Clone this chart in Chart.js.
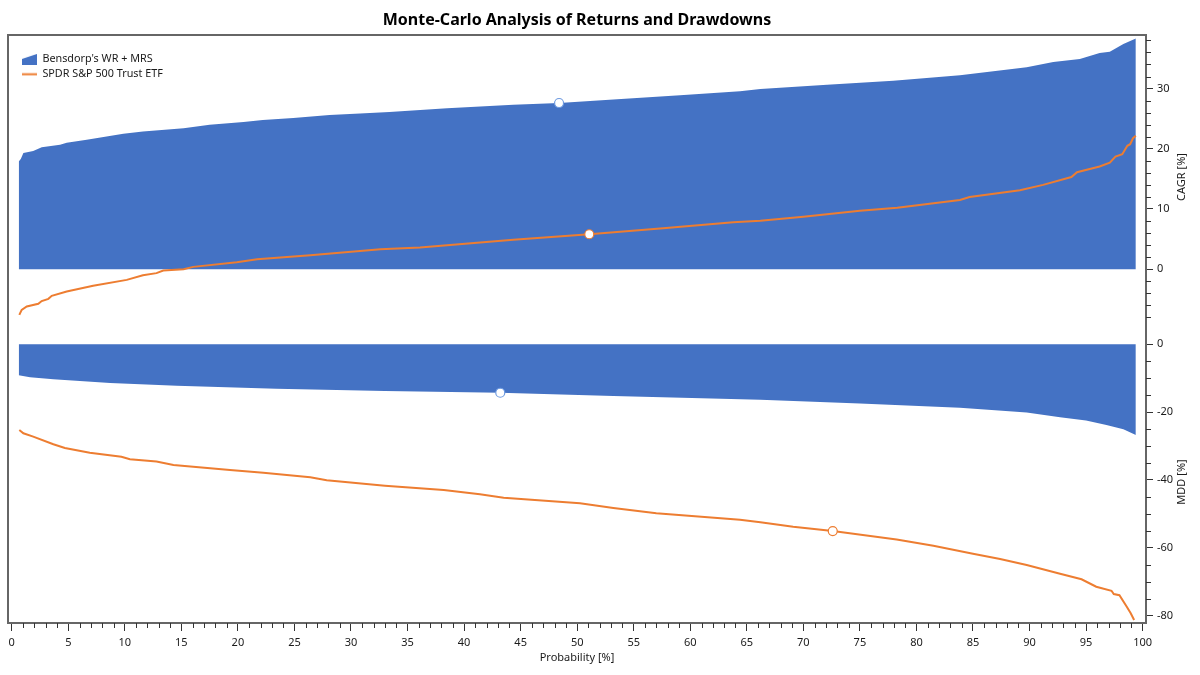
<!DOCTYPE html>
<html>
<head>
<meta charset="utf-8">
<title>Monte-Carlo Analysis of Returns and Drawdowns</title>
<script src="https://cdn.jsdelivr.net/npm/chart.js@4/dist/chart.umd.min.js"></script>
<style>
    body { margin: 0; background: #fff; }
    canvas { display: block; }
</style>
</head>
<body>
<canvas id="chart" width="1200" height="675"></canvas>
<script>
// values
const wrCagrX = [0.62, 0.8, 1.03, 1.9, 2.65, 4.27, 4.86, 6.63, 9.87, 11.6, 15.2, 17.5, 20.5, 22.2, 24.9, 28.1, 30.8, 33.4, 38.5, 44.35, 48.4, 53.2, 59.1, 64.4, 66.2, 72.1, 77.95, 83.85, 89.75, 92.1, 94.45, 96.2, 97.1, 98.3, 99.4];
const wrCagrY = [17.9, 18.3, 19.3, 19.65, 20.25, 20.65, 21.0, 21.5, 22.5, 22.85, 23.4, 24.0, 24.45, 24.8, 25.1, 25.6, 25.85, 26.1, 26.75, 27.3, 27.6, 28.2, 28.9, 29.55, 29.95, 30.65, 31.3, 32.2, 33.55, 34.4, 34.9, 35.9, 36.1, 37.4, 38.3];

const spyCagrX = [0.67, 0.88, 1.33, 2.35, 2.65, 3.24, 3.54, 4.86, 7.2, 10.17, 11.6, 12.8, 13.4, 15.2, 16.05, 19.9, 21.7, 26.4, 32.6, 36.1, 44.35, 51.07, 57.6, 63.8, 66.2, 70, 75, 78.3, 83.85, 84.7, 89.15, 91.2, 93.7, 94.2, 96.2, 97.1, 97.6, 98.2, 98.65, 98.9, 99.15, 99.4];
const spyCagrY = [-7.6, -6.76, -6.2, -5.76, -5.3, -4.93, -4.43, -3.7, -2.77, -1.78, -1.0, -0.66, -0.23, 0, 0.38, 1.16, 1.66, 2.33, 3.3, 3.6, 4.87, 5.8, 6.8, 7.8, 8.05, 8.7, 9.7, 10.2, 11.5, 12.0, 13.1, 14.0, 15.3, 16.1, 17.05, 17.7, 18.7, 19.1, 20.5, 20.75, 21.75, 22.15];

const wrMddX = [0.62, 1.62, 3.68, 8.7, 14.6, 23.4, 33.0, 43.2, 53.2, 66.2, 75, 83.85, 89.75, 92.7, 95, 96.8, 98.3, 99.4];
const wrMddY = [-9.15, -9.75, -10.3, -11.4, -12.2, -13.1, -13.75, -14.3, -15.25, -16.4, -17.5, -18.7, -20.1, -21.5, -22.5, -23.8, -25.1, -26.75];

const spyMddX = [0.67, 1.03, 1.9, 3.68, 4.7, 6.9, 9.7, 10.45, 12.8, 14.3, 19.3, 22.25, 26.4, 27.85, 33.0, 38.2, 41.4, 43.5, 50.25, 53.2, 57, 64.4, 66.2, 69.1, 72.6, 78.25, 81.5, 85, 87.4, 89.75, 92.7, 94.6, 95.9, 97.25, 97.45, 97.95, 98.6, 98.95, 99.25];
const spyMddY = [-25.3, -26.25, -27.25, -29.5, -30.6, -32, -33.15, -33.9, -34.6, -35.6, -37.1, -37.9, -39.2, -40.1, -41.7, -43, -44.25, -45.25, -46.9, -48.3, -49.85, -51.75, -52.5, -53.8, -55.1, -57.6, -59.4, -61.8, -63.3, -65.1, -67.65, -69.3, -71.5, -72.7, -73.65, -74, -77.4, -79.35, -81.3];

// median markers
const wrCagrMedian = [48.4, 27.6];
const spyCagrMedian = [51.07, 5.8];
const wrMddMedian = [43.2, -14.3];
const spyMddMedian = [72.6, -55.1];

const xTicks = [0, 5, 10, 15, 20, 25, 30, 35, 40, 45, 50, 55, 60, 65, 70, 75, 80, 85, 90, 95, 100];
const cagrTicks = [0, 10, 20, 30];
const mddTicks = [0, -20, -40, -60, -80];

const seriesNames = ["Bensdorp's WR + MRS", 'SPDR S&P 500 Trust ETF'];

const BLUE = '#4472C4';
const ORANGE = '#ED7D31';
const AXIS = '#666666';
const TEXT = '#1a1a1a';
const FONT = '"Noto Sans", sans-serif';

function toPoints(xs, ys) {
    return xs.map((x, i) => ({ x: x, y: ys[i] }));
}

function areaSet(label, xs, ys, axis) {
    return {
        label: label, data: toPoints(xs, ys), yAxisID: axis, order: 3,
        borderWidth: 0, backgroundColor: BLUE, borderColor: BLUE,
        fill: { value: 0 }, pointRadius: 0, tension: 0
    };
}

function lineSet(label, xs, ys, axis) {
    return {
        label: label, data: toPoints(xs, ys), yAxisID: axis, order: 2,
        borderWidth: 2, borderColor: ORANGE, backgroundColor: ORANGE,
        fill: false, pointRadius: 0, tension: 0
    };
}

function markerSet(point, axis, color) {
    return {
        label: 'median', data: [{ x: point[0], y: point[1] }], yAxisID: axis, order: 1,
        showLine: false, pointRadius: 4.5, pointBorderWidth: 1.2,
        pointBackgroundColor: '#ffffff', pointBorderColor: color
    };
}

// legend icons
function legendIcon(draw) {
    const c = document.createElement('canvas');
    c.width = 15;
    c.height = 11;
    draw(c.getContext('2d'));
    return c;
}

const areaIcon = legendIcon(ctx => {
    ctx.fillStyle = BLUE;
    ctx.beginPath();
    ctx.moveTo(0, 11);
    ctx.lineTo(0, 5);
    ctx.lineTo(15, 0);
    ctx.lineTo(15, 11);
    ctx.closePath();
    ctx.fill();
});

const lineIcon = legendIcon(ctx => {
    ctx.fillStyle = ORANGE;
    ctx.fillRect(0, 4.5, 15, 2);
});

// minor ticks, plot frame and the upward-reading y titles
const axisExtras = {
    id: 'axisExtras',
    afterLayout(chart) {
        // the legend sits inside the plot, top left
        chart.legend.left = chart.chartArea.left + 10;
        chart.legend.top = chart.chartArea.top + 15;
    },
    afterDraw(chart) {
        const ctx = chart.ctx;
        const area = chart.chartArea;
        const x = chart.scales.x;
        const yCagr = chart.scales.yCagr;
        const yMdd = chart.scales.yMdd;

        ctx.save();
        ctx.strokeStyle = AXIS;
        ctx.lineWidth = 2;
        ctx.beginPath();
        ctx.moveTo(area.left, area.bottom);
        ctx.lineTo(area.left, area.top);
        ctx.lineTo(area.right, area.top);
        ctx.stroke();

        ctx.strokeStyle = '#333333';
        ctx.lineWidth = 1;
        ctx.beginPath();
        for (let v = 0; v <= 100; v++) {
            if (v % 5 === 0) continue;
            const px = Math.round(x.getPixelForValue(v)) + 0.5;
            ctx.moveTo(px, area.bottom);
            ctx.lineTo(px, area.bottom + 5);
        }
        for (let v = -8; v <= 38; v += 2) {
            if (v % 10 === 0) continue;
            const py = Math.round(yCagr.getPixelForValue(v)) + 0.5;
            ctx.moveTo(area.right, py);
            ctx.lineTo(area.right + 5, py);
        }
        for (let v = 0; v >= -80; v -= 5) {
            if (v % 20 === 0) continue;
            const py = Math.round(yMdd.getPixelForValue(v)) + 0.5;
            ctx.moveTo(area.right, py);
            ctx.lineTo(area.right + 5, py);
        }
        ctx.stroke();

        ctx.fillStyle = TEXT;
        ctx.font = '11px ' + FONT;
        ctx.textAlign = 'center';
        ctx.textBaseline = 'middle';
        [['CAGR [%]', 177], ['MDD [%]', 482]].forEach(t => {
            ctx.save();
            ctx.translate(1182, t[1]);
            ctx.rotate(-Math.PI / 2);
            ctx.fillText(t[0], 0, 0);
            ctx.restore();
        });
        ctx.restore();
    }
};

function rightAxis(min, max, values) {
    return {
        type: 'linear', position: 'right', stack: 'returns', stackWeight: 1,
        min: min, max: max,
        afterBuildTicks: scale => { scale.ticks = values.map(v => ({ value: v })); },
        afterFit: scale => { scale.width = 54; },
        border: { color: AXIS, width: 2 },
        grid: { drawOnChartArea: false, tickLength: 7, tickColor: '#333333', tickWidth: 1 },
        ticks: { color: TEXT, font: { family: FONT, size: 11 }, padding: 4, autoSkip: false, maxRotation: 0 }
    };
}

new Chart(document.getElementById('chart'), {
    type: 'line',
    data: {
        datasets: [
            areaSet(seriesNames[0], wrCagrX, wrCagrY, 'yCagr'),
            areaSet(seriesNames[0], wrMddX, wrMddY, 'yMdd'),
            lineSet(seriesNames[1], spyCagrX, spyCagrY, 'yCagr'),
            lineSet(seriesNames[1], spyMddX, spyMddY, 'yMdd'),
            markerSet(wrCagrMedian, 'yCagr', '#6f9be0'),
            markerSet(spyCagrMedian, 'yCagr', ORANGE),
            markerSet(wrMddMedian, 'yMdd', '#6f9be0'),
            markerSet(spyMddMedian, 'yMdd', ORANGE)
        ]
    },
    options: {
        responsive: false,
        animation: false,
        layout: { padding: { left: 8, right: 0, top: 0, bottom: 11 } },
        scales: {
            x: {
                type: 'linear', min: -0.33, max: 100.3,
                afterBuildTicks: scale => { scale.ticks = xTicks.map(v => ({ value: v })); },
                afterFit: scale => { scale.height = 41; },
                border: { color: AXIS, width: 2 },
                grid: { drawOnChartArea: false, tickLength: 8, tickColor: '#333333', tickWidth: 1 },
                ticks: { color: TEXT, font: { family: FONT, size: 11 }, padding: 5, autoSkip: false, maxRotation: 0 },
                title: { display: true, text: 'Probability [%]', color: TEXT, font: { family: FONT, size: 11 }, padding: { top: 0, bottom: 0 } }
            },
            yCagr: rightAxis(-9.94, 38.9, cagrTicks),
            yMdd: rightAxis(-82.2, 4.5, mddTicks)
        },
        plugins: {
            title: {
                display: true, fullSize: false,
                text: 'Monte-Carlo Analysis of Returns and Drawdowns',
                color: '#000000',
                font: { family: FONT, size: 16, weight: 'bold' },
                padding: { top: 10.5, bottom: 5.3 }
            },
            legend: {
                position: 'chartArea', align: 'start',
                labels: {
                    usePointStyle: true, pointStyleWidth: 15, padding: 4,
                    color: TEXT, font: { family: FONT, size: 10.8 },
                    generateLabels: () => [
                        { text: seriesNames[0], pointStyle: areaIcon, fontColor: TEXT, datasetIndex: 0 },
                        { text: seriesNames[1], pointStyle: lineIcon, fontColor: TEXT, datasetIndex: 2 }
                    ]
                }
            },
            tooltip: { enabled: false }
        }
    },
    plugins: [axisExtras]
});
</script>
</body>
</html>
